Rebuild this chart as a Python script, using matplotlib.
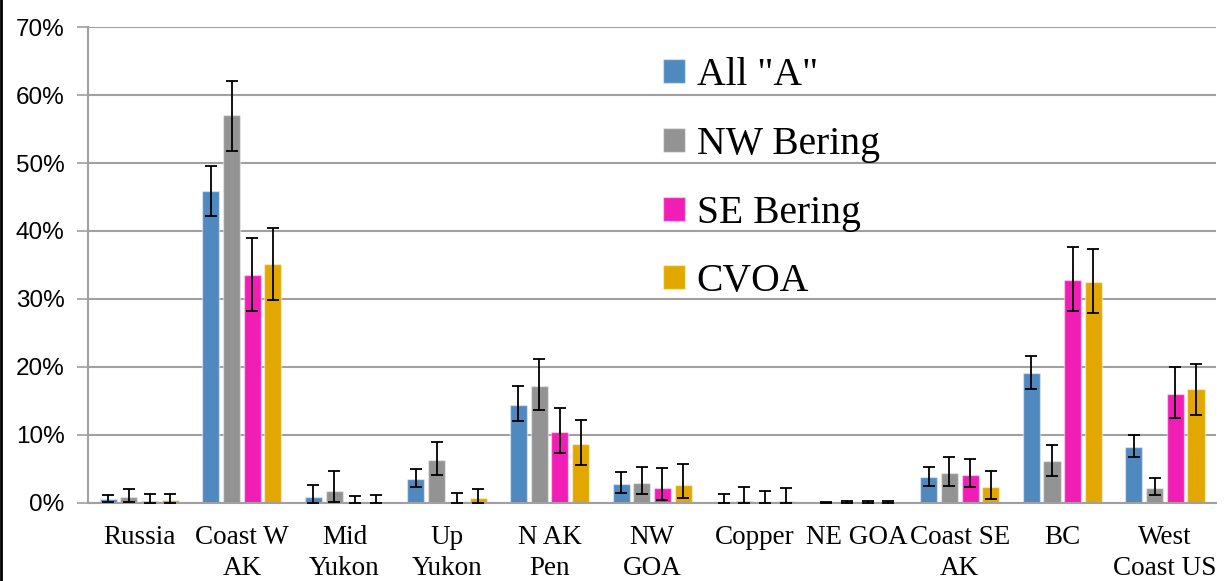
import numpy as np
import matplotlib
matplotlib.use("Agg")
import matplotlib.pyplot as plt
from matplotlib.lines import Line2D

# regions on the x axis
regions = ["Russia", "Coast W\nAK", "Mid\nYukon", "Up\nYukon", "N AK\nPen", "NW\nGOA",
           "Copper", "NE GOA", "Coast SE\nAK", "BC", "West\nCoast US"]

# estimates (%) and error bar ends (low, high)
all_a = [0.55, 45.9, 0.9, 3.5, 14.4, 2.8, 0.1, 0.05, 3.8, 19.1, 8.3]
all_a_lo = [0.2, 42.2, 0.0, 2.35, 12.0, 1.4, 0.0, 0.0, 2.5, 16.8, 6.8]
all_a_hi = [1.2, 49.6, 2.65, 5.0, 17.2, 4.55, 1.3, 0.15, 5.3, 21.6, 10.05]

nw_bering = [0.9, 57.0, 1.8, 6.3, 17.25, 3.0, 0.3, 0.05, 4.45, 6.1, 2.2]
nw_bering_lo = [0.2, 51.8, 0.1, 4.1, 13.7, 1.3, 0.0, 0.0, 2.5, 4.0, 1.1]
nw_bering_hi = [2.0, 62.0, 4.75, 8.9, 21.2, 5.3, 2.4, 0.25, 6.8, 8.5, 3.7]

se_bering = [0.3, 33.5, 0.1, 0.05, 10.4, 2.2, 0.05, 0.05, 4.1, 32.75, 16.1]
se_bering_lo = [0.05, 28.3, 0.0, 0.0, 7.3, 0.4, 0.0, 0.0, 2.35, 28.2, 12.5]
se_bering_hi = [1.3, 38.9, 1.0, 1.4, 14.0, 5.2, 1.8, 0.25, 6.4, 37.6, 20.0]

cvoa = [0.4, 35.1, 0.2, 0.7, 8.7, 2.6, 0.3, 0.05, 2.4, 32.45, 16.7]
cvoa_lo = [0.05, 29.9, 0.0, 0.05, 5.6, 0.8, 0.0, 0.0, 0.6, 27.9, 13.0]
cvoa_hi = [1.3, 40.4, 1.2, 2.0, 12.2, 5.7, 2.15, 0.25, 4.7, 37.3, 20.5]

series = [
    ('All "A"', all_a, all_a_lo, all_a_hi, "#4F89BF"),
    ("NW Bering", nw_bering, nw_bering_lo, nw_bering_hi, "#939393"),
    ("SE Bering", se_bering, se_bering_lo, se_bering_hi, "#F01EB4"),
    ("CVOA", cvoa, cvoa_lo, cvoa_hi, "#E2A800"),
]

fig = plt.figure(figsize=(12.26, 5.81), dpi=100)
ax = fig.add_axes([0.0718, 0.1343, 0.9202, 0.8192])

x = np.arange(len(regions))
pitch = 0.202
width = 0.166
for i, (name, vals, lo, hi, col) in enumerate(series):
    vals = np.array(vals)
    yerr = [vals - np.array(lo), np.array(hi) - vals]
    ax.bar(x + (i - 1.5) * pitch, vals, width, color=col, edgecolor=(1, 1, 1, 0.45),
           linewidth=1, label=name, zorder=2,
           yerr=yerr, error_kw=dict(ecolor="black", elinewidth=1.3, capsize=4.5,
                                    capthick=1.3, zorder=3))

ax.set_xlim(-0.5, len(regions) - 0.5)
ax.set_ylim(0, 70)
ax.set_yticks(range(0, 71, 10))
ax.set_yticklabels([f"{v}%" for v in range(0, 71, 10)], fontsize=17.5,
                   family="Liberation Sans")
ax.set_xticks(x)
ax.set_xticklabels(regions, fontsize=19.5, family="Liberation Serif", linespacing=1.3)
ax.tick_params(axis="x", length=0, pad=16)
ax.tick_params(axis="y", length=8, color="#A0A0A0", width=1.2, pad=9)
ax.yaxis.grid(True, color="#A0A0A0", linewidth=1.5, zorder=0)
ax.set_axisbelow(True)
for s in ["top", "right"]:
    ax.spines[s].set_visible(False)
for s in ["left", "bottom"]:
    ax.spines[s].set_color("#A0A0A0")
    ax.spines[s].set_linewidth(1.5)

leg = ax.legend(loc="upper left", bbox_to_anchor=(0.492, 0.978), frameon=False,
                prop=dict(family="Liberation Serif", size=28.5), handlelength=0.55,
                handleheight=0.55, handletextpad=0.3, labelspacing=0.8, borderpad=0)

# frame edge on the left side of the picture
fig.add_artist(Line2D([0.001, 0.001], [0, 1], color="black", linewidth=2,
                      transform=fig.transFigure))

fig.savefig("out.png", dpi=100)
